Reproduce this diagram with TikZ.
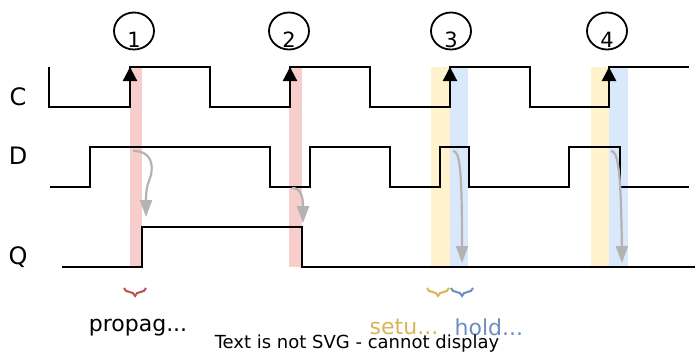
\documentclass[tikz,border=0pt]{standalone}
\usepackage{fontspec}
\setmainfont{DejaVu Sans}
\definecolor{tred}{RGB}{248,206,204}
\definecolor{tdred}{RGB}{184,84,80}
\definecolor{tyel}{RGB}{255,242,204}
\definecolor{tdyel}{RGB}{214,182,86}
\definecolor{tblue}{RGB}{218,232,252}
\definecolor{tdblue}{RGB}{108,142,191}
\definecolor{tgray}{RGB}{179,179,179}
\usetikzlibrary{arrows.meta,positioning,shapes.geometric,decorations.pathreplacing}

\begin{document}
\begin{tikzpicture}[x=1pt, y=-1pt,
    sig/.style={black, line width=2.2pt},
    clk/.style={-{Triangle[length=14pt,width=14pt]}, black, line width=2.2pt},
    flow/.style={-{Triangle[length=17pt,width=12pt]}, tgray, line width=2.2pt},
    num/.style={draw, ellipse, line width=1.8pt, minimum width=40pt,
                minimum height=37pt, inner sep=0pt},
    lbl/.style={font=\fontsize{22}{24}\selectfont, inner sep=0pt},
    brc/.style={decorate, decoration={brace, amplitude=8pt, mirror}, line width=2pt},
  ]
    \useasboundingbox (0,0) rectangle (695,354);
    % timing windows
    \fill[tred]  (130,67) rectangle (142,267);
    \fill[tred]  (289,67) rectangle (302,267);
    \fill[tyel]  (431,67) rectangle (450,267);
    \fill[tblue] (450,67) rectangle (468,267);
    \fill[tyel]  (591,67) rectangle (609,267);
    \fill[tblue] (609,67) rectangle (628,267);
    % signal names
    \node[lbl, font=\fontsize{24}{26}\selectfont] (C) at (18,97)  {C};
    \node[lbl, font=\fontsize{24}{26}\selectfont] (D) at (18,156) {D};
    \node[lbl, font=\fontsize{24}{26}\selectfont] (Q) at (18,257) {Q};
    % clock edges
    \foreach \x/\n in {134/1, 289/2, 451/3, 607/4} {
      \node[num] (e\n) at (\x,31) {};
      \node[font=\fontsize{21}{23}\selectfont, inner sep=0pt] (n\n) at (\x,40) {\n};
    }
    \draw[sig] (49,67) |- (130,107) |- (210,67) |- (290,107) |- (370,67)
               |- (450,107) |- (530,67) |- (609,107) |- (689,67);
    \foreach \x in {130,290,450,609}
      \draw[clk] (\x,92) -- (\x,67);
    \draw[sig] (50,187) -| (90,147) -| (270,187) -| (310,147) -| (390,187)
               -| (440,147) -| (469,187) -| (569,147) -| (620,187) -- (689,187);
    \draw[sig] (62,267) -| (142,227) -| (302,267) -- (695,267);
    % D -> Q
    \draw[flow] (133,151) .. controls (152,151) and (153,165) .. (151,175)
                .. controls (149,182) and (146,185) .. (146,217);
    \draw[flow] (292,188) .. controls (300,188) and (303,195) .. (303,223);
    \draw[flow] (453,151) .. controls (460,151) and (462,170) .. (462,263);
    \draw[flow] (611,151) .. controls (618,151) and (621,170) .. (622,263);
    % braces and names
    \draw[brc, tdred]  (124,288) -- (146,288);
    \draw[brc, tdyel]  (427,288) -- (449,288);
    \draw[brc, tdblue] (451,288) -- (473,288);
    \node[lbl] (prop) at (138,328) {propag...};
    \node[lbl, text=tdyel] (setup) at (404,327) {setu...};
    \node[lbl, text=tdblue, right=16pt of setup] (hold) {hold...};
    \node[font=\fontsize{18}{20}\selectfont, inner sep=0pt] (nosvg) at (357,344)
      {Text is not SVG - cannot display};
\end{tikzpicture}
\end{document}
